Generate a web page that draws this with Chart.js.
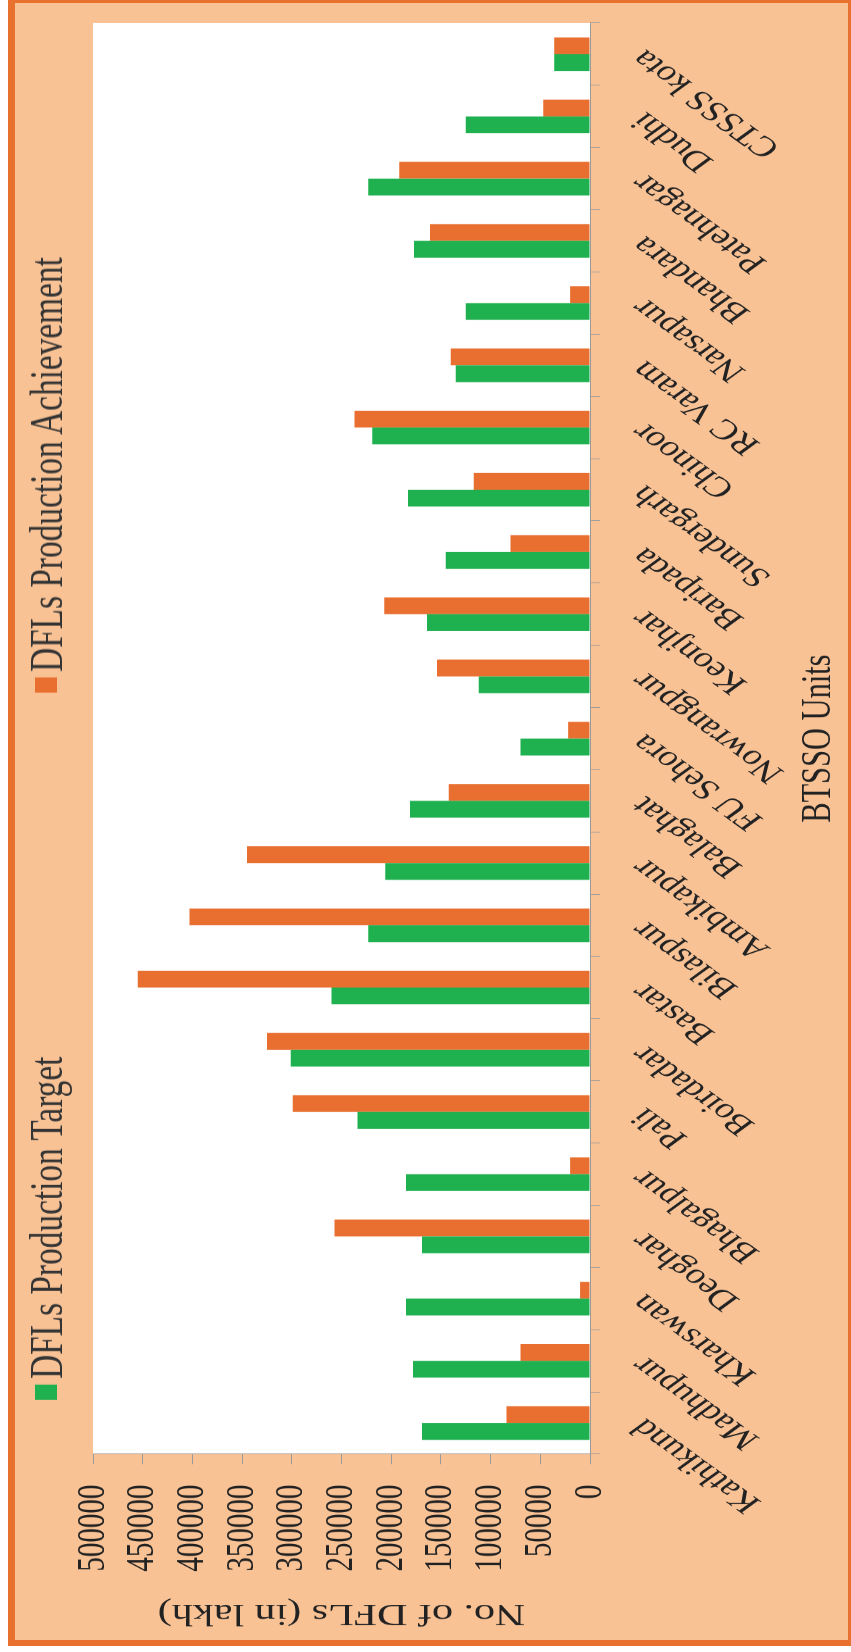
<!DOCTYPE html>
<html>
<head>
<meta charset="utf-8">
<script src="https://cdn.jsdelivr.net/npm/chart.js@4.4.1/dist/chart.umd.min.js"></script>
<style>
  html, body { margin: 0; padding: 0; background: #fff; width: 851px; height: 1652px; overflow: hidden; }
  #frame {
    position: absolute; left: 8px; top: 0; width: 833px; height: 1637px;
    background: #F9C295; border-style: solid; border-color: #E8712F;
    border-width: 3px 3px 6px 7px;
  }
  /* the chart is drawn upright and then turned a quarter turn, a bit squeezed along its width */
  #rot {
    position: absolute; left: 0; top: 0; width: 2280px; height: 851px;
    transform-origin: 0 0;
    transform: translate(0px, 1652px) rotate(-90deg) scaleX(0.7246);
  }
  #rot canvas { position: absolute; left: 0; top: 0; }
  .item {
    position: absolute; top: 0; height: 92px; display: flex; align-items: center;
    font-family: "Liberation Serif"; font-size: 46px; color: #333; white-space: nowrap;
  }
  .box { width: 21px; height: 22px; margin-right: 8px; }
</style>
</head>
<body>
<div id="frame"></div>
<div id="rot">
  <canvas id="chart" width="2280" height="851"></canvas>
  <div class="item" id="leg0" style="left:348px"><span class="box"></span><span class="txt"></span></div>
  <div class="item" id="leg1" style="right:355px"><span class="box"></span><span class="txt"></span></div>
</div>
<script>
const units = ['Kathikund', 'Madhupur', 'Kharswan', 'Deoghar', 'Bhagalpur', 'Pali', 'Boirdadar', 'Bastar',
  'Bilaspur', 'Ambikapur', 'Balaghat', 'FU Sehora', 'Nowrangpur', 'Keonjhar', 'Baripada', 'Sundergarh',
  'Chinoor', 'RC Varam', 'Narsapur', 'Bhandara', 'Patehnagar', 'Dudhi', 'CTSSS kota'];
const targetDFLs = [169000, 178000, 185000, 169000, 185000, 234000, 301000, 260000, 223000, 206000, 181000, 70000,
  112000, 164000, 145000, 183000, 219000, 135000, 125000, 177000, 223000, 125000, 36000];
const achievedDFLs = [84000, 70000, 10000, 257000, 20000, 299000, 325000, 455000, 403000, 345000, 142000, 22000,
  154000, 207000, 80000, 117000, 237000, 140000, 20000, 161000, 192000, 47000, 36000];
const valueTicks = [0, 50000, 100000, 150000, 200000, 250000, 300000, 350000, 400000, 450000, 500000];
const seriesNames = ['DFLs Production Target', 'DFLs Production Achievement'];
const seriesColors = ['#1FB04F', '#E86F30'];

const serif = 'Liberation Serif';
const axisGray = '#9a9a9a';

// white plot area on the peach background
const whitePlot = {
    id: 'whitePlot',
    beforeDraw(chart) {
        const a = chart.chartArea;
        const c = chart.ctx;
        c.save();
        c.fillStyle = '#ffffff';
        c.fillRect(a.left, a.top, a.right - a.left, a.bottom - a.top);
        c.restore();
    }
};

const ctx = document.getElementById('chart').getContext('2d');
const chart = new Chart(ctx, {
    type: 'bar',
    data: {
        labels: units,
        datasets: [{
            label: seriesNames[0],
            data: targetDFLs,
            backgroundColor: seriesColors[0],
            categoryPercentage: 0.54,
            barPercentage: 1
        }, {
            label: seriesNames[1],
            data: achievedDFLs,
            backgroundColor: seriesColors[1],
            categoryPercentage: 0.54,
            barPercentage: 1
        }]
    },
    options: {
        responsive: false,
        animation: false,
        devicePixelRatio: 1,
        layout: { padding: { top: 93, right: 32, bottom: 0, left: 0 } },
        plugins: {
            legend: { display: false },
            tooltip: { enabled: false }
        },
        scales: {
            x: {
                grid: { drawOnChartArea: false, color: axisGray, tickLength: 10, offset: true },
                border: { color: axisGray },
                ticks: {
                    autoSkip: false, minRotation: 45, maxRotation: 45, padding: 22,
                    color: '#222', font: { family: serif, size: 39 }
                },
                title: {
                    display: true, text: 'BTSSO Units', color: '#222',
                    font: { family: serif, size: 42 }, padding: { top: 0, bottom: 7 }
                },
                afterFit: function (scale) { scale.height = 261; }
            },
            y: {
                min: 0,
                max: 500000,
                afterBuildTicks: function (scale) {
                    scale.ticks = valueTicks.map(v => ({ value: v }));
                },
                grid: { drawOnChartArea: false, color: axisGray, tickLength: 14 },
                border: { color: axisGray },
                ticks: {
                    autoSkip: false, padding: 28, color: '#222', font: { family: serif, size: 40 },
                    callback: v => String(v)
                },
                title: {
                    display: true, text: 'No. of DFLs (in lakh)', color: '#222',
                    font: { family: serif, size: 42 }, padding: { top: 29, bottom: 0 }
                },
                afterFit: function (scale) { scale.width = 273; }
            }
        }
    },
    plugins: [whitePlot]
});

// legend as real text, colours taken from the datasets
chart.data.datasets.forEach(function (ds, i) {
    const item = document.getElementById('leg' + i);
    item.querySelector('.box').style.background = ds.backgroundColor;
    item.querySelector('.txt').textContent = ds.label;
});
</script>
</body>
</html>
